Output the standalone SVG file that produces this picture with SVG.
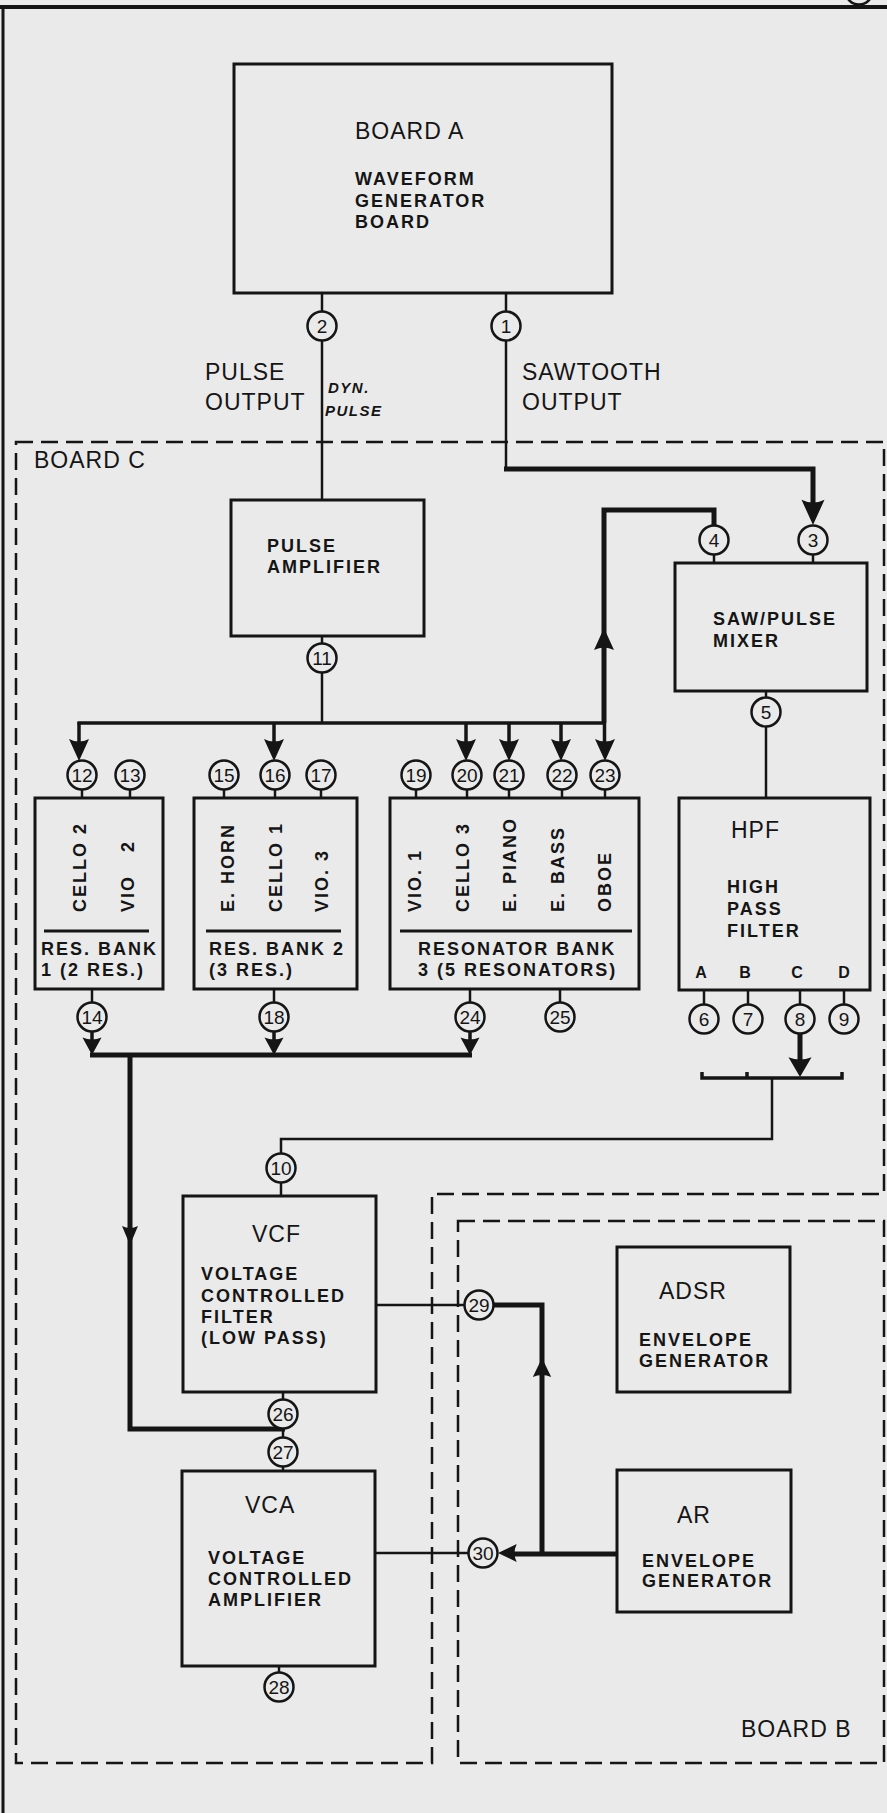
<svg xmlns="http://www.w3.org/2000/svg" xmlns:xlink="http://www.w3.org/1999/xlink" width="887" height="1813" viewBox="0 0 887 1813">
<style>
.bg{fill:#eaeaea}
.box{fill:none;stroke:#151515;stroke-width:3}
.w{fill:none;stroke:#151515;stroke-width:2.5}
.m{fill:none;stroke:#151515;stroke-width:3.5}
.t{fill:none;stroke:#151515;stroke-width:5}
.dash{fill:none;stroke:#151515;stroke-width:2.5;stroke-dasharray:17 8}
.ah{fill:#151515}
.pin circle{fill:#eaeaea;stroke:#151515;stroke-width:2.5}
.pin text{font-family:"Liberation Sans",Arial,sans-serif;font-size:19px;text-anchor:middle;fill:#151515}
.big{font-family:"Liberation Sans",Arial,sans-serif;font-size:23px;letter-spacing:1px;fill:#151515}
.sm{font-family:"Liberation Sans",Arial,sans-serif;font-size:18px;font-weight:bold;letter-spacing:2px;fill:#151515}
.hand{font-family:"Liberation Sans",Arial,sans-serif;font-size:15px;font-weight:bold;font-style:italic;letter-spacing:1.5px;fill:#151515}
</style>
<defs>
<path id="ah" d="M0,0 L-10,-22 Q0,-17 10,-22 Z"/>
<path id="ahN" d="M0,0 L-8,-19 Q0,-15 8,-19 Z"/>
</defs>
<rect class="bg" x="0" y="0" width="887" height="1813"/>

<g id="frame">
<line x1="0" y1="7" x2="887" y2="7" stroke="#151515" stroke-width="4"/>
<line x1="3" y1="7" x2="3" y2="1813" stroke="#151515" stroke-width="3"/>
<circle cx="859" cy="-9" r="13.5" fill="none" stroke="#151515" stroke-width="2.5"/>
</g>

<g id="board-c">
<path class="dash" d="M16,442 H884 V1194 H432 V1763 H16 Z"/>
<text class="big" x="34" y="468">BOARD C</text>
</g>

<g id="board-b">
<rect class="dash" x="458" y="1221" width="426" height="542"/>
<text class="big" x="741" y="1737">BOARD B</text>
</g>

<g id="connectors">
<line class="w" x1="322" y1="293" x2="322" y2="312"/>
<line class="w" x1="322" y1="340" x2="322" y2="500"/>
<line class="w" x1="506" y1="293" x2="506" y2="312"/>
<polyline class="w" points="506,340 506,469"/>
<polyline class="t" points="504,469 813,469 813,508"/>
<use href="#ah" class="ah" transform="translate(813,525) scale(1.15)"/>
<line class="w" x1="813" y1="554" x2="813" y2="563"/>
<line class="w" x1="714" y1="554" x2="714" y2="563"/>
<polyline class="t" points="714,526 714,510 604,510 604,723"/>
<use href="#ah" class="ah" transform="translate(604,628) rotate(180)"/>
<line class="w" x1="322" y1="636" x2="322" y2="644"/>
<line class="w" x1="322" y1="672" x2="322" y2="723"/>
<line class="m" x1="77.5" y1="723" x2="606" y2="723"/>
<polyline class="m" points="79,722 79,745"/>
<line class="m" x1="274" y1="723" x2="274" y2="745"/>
<line class="m" x1="466" y1="723" x2="466" y2="745"/>
<line class="m" x1="509" y1="723" x2="509" y2="745"/>
<line class="m" x1="561" y1="723" x2="561" y2="745"/>
<line class="m" x1="604.5" y1="723" x2="604.5" y2="745"/>
<use href="#ah" class="ah" transform="translate(79,761)"/>
<use href="#ah" class="ah" transform="translate(274,761)"/>
<use href="#ah" class="ah" transform="translate(466,761)"/>
<use href="#ah" class="ah" transform="translate(509,761)"/>
<use href="#ah" class="ah" transform="translate(561,761)"/>
<use href="#ah" class="ah" transform="translate(605,761)"/>
<g class="w">
<line x1="82" y1="789" x2="82" y2="798"/>
<line x1="130" y1="789" x2="130" y2="798"/>
<line x1="224" y1="789" x2="224" y2="798"/>
<line x1="275" y1="789" x2="275" y2="798"/>
<line x1="321" y1="789" x2="321" y2="798"/>
<line x1="416" y1="789" x2="416" y2="798"/>
<line x1="467" y1="789" x2="467" y2="798"/>
<line x1="509" y1="789" x2="509" y2="798"/>
<line x1="562" y1="789" x2="562" y2="798"/>
<line x1="605" y1="789" x2="605" y2="798"/>
<line x1="92" y1="989" x2="92" y2="1003"/>
<line x1="274" y1="989" x2="274" y2="1003"/>
<line x1="470" y1="989" x2="470" y2="1003"/>
<line x1="560" y1="989" x2="560" y2="1003"/>
<line x1="766" y1="691" x2="766" y2="698"/>
<line x1="766" y1="726" x2="766" y2="798"/>
<line x1="704" y1="990" x2="704" y2="1005"/>
<line x1="748" y1="990" x2="748" y2="1005"/>
<line x1="800" y1="990" x2="800" y2="1005"/>
<line x1="844" y1="990" x2="844" y2="1005"/>
</g>
<line class="m" x1="92" y1="1031" x2="92" y2="1040"/>
<line class="m" x1="274" y1="1031" x2="274" y2="1040"/>
<line class="m" x1="470" y1="1031" x2="470" y2="1040"/>
<use href="#ah" class="ah" transform="translate(92,1055) scale(0.95,0.8)"/>
<use href="#ah" class="ah" transform="translate(274,1055) scale(0.95,0.8)"/>
<use href="#ah" class="ah" transform="translate(470,1055) scale(0.95,0.8)"/>
<polyline class="t" points="90,1055 472,1055"/>
<polyline class="t" points="130,1055 130,1429 285,1429"/>
<use href="#ahN" class="ah" transform="translate(130,1245)"/>
<line class="t" x1="800" y1="1033" x2="800" y2="1062"/>
<use href="#ah" class="ah" transform="translate(800,1077) scale(1.15,0.9)"/>
<polyline class="m" points="702,1072 702,1078 842,1078 842,1072"/>
<line class="m" x1="747" y1="1078" x2="747" y2="1072"/>
<polyline class="w" points="772,1078 772,1139 281,1139 281,1154"/>
<line class="w" x1="281" y1="1182" x2="281" y2="1196"/>
<line class="w" x1="283" y1="1392" x2="283" y2="1400"/>
<line class="w" x1="283" y1="1428" x2="283" y2="1438"/>
<line class="w" x1="283" y1="1466" x2="283" y2="1471"/>
<line class="w" x1="279" y1="1666" x2="279" y2="1673"/>
<line class="w" x1="376" y1="1305" x2="465" y2="1305"/>
<polyline class="t" points="493,1305 542,1305 542,1555"/>
<use href="#ahN" class="ah" transform="translate(542,1358) rotate(180) scale(1.15,1)"/>
<line class="w" x1="375" y1="1553" x2="469" y2="1553"/>
<line class="t" x1="617" y1="1554" x2="510" y2="1554"/>
<use href="#ah" class="ah" transform="translate(498,1553) rotate(90) scale(0.9,0.85)"/>
</g>

<g id="board-a">
<rect class="box" x="234" y="64" width="378" height="229"/>
<text class="big" x="355" y="139">BOARD A</text>
<text class="sm" x="355" y="185">WAVEFORM</text>
<text class="sm" x="355" y="207">GENERATOR</text>
<text class="sm" x="355" y="228">BOARD</text>
</g>

<g id="labels-outputs">
<text class="big" x="205" y="380">PULSE</text>
<text class="big" x="205" y="410">OUTPUT</text>
<text class="hand" x="328" y="393">DYN.</text>
<text class="hand" x="325" y="416">PULSE</text>
<text class="big" x="522" y="380">SAWTOOTH</text>
<text class="big" x="522" y="410">OUTPUT</text>
</g>

<g id="pulse-amplifier">
<rect class="box" x="231" y="500" width="193" height="136"/>
<text class="sm" x="267" y="552">PULSE</text>
<text class="sm" x="267" y="573">AMPLIFIER</text>
</g>

<g id="saw-pulse-mixer">
<rect class="box" x="675" y="563" width="192" height="128"/>
<text class="sm" x="713" y="625">SAW/PULSE</text>
<text class="sm" x="713" y="647">MIXER</text>
</g>

<g id="res-bank-1">
<rect class="box" x="35" y="798" width="128" height="191"/>
<text class="sm" transform="translate(85.5,912) rotate(-90)">CELLO 2</text>
<text class="sm" transform="translate(133.5,912) rotate(-90)">VIO<tspan dx="23">2</tspan></text>
<line class="box" x1="44" y1="931" x2="149" y2="931"/>
<text class="sm" x="41" y="955">RES. BANK</text>
<text class="sm" x="41" y="976">1 (2 RES.)</text>
</g>

<g id="res-bank-2">
<rect class="box" x="194" y="798" width="163" height="191"/>
<text class="sm" transform="translate(233.5,912) rotate(-90)">E. HORN</text>
<text class="sm" transform="translate(281.5,912) rotate(-90)">CELLO 1</text>
<text class="sm" transform="translate(327.5,912) rotate(-90)">VIO. 3</text>
<line class="box" x1="206" y1="931" x2="341" y2="931"/>
<text class="sm" x="209" y="955">RES. BANK 2</text>
<text class="sm" x="209" y="976">(3 RES.)</text>
</g>

<g id="res-bank-3">
<rect class="box" x="390" y="798" width="249" height="191"/>
<text class="sm" transform="translate(420.5,912) rotate(-90)">VIO. 1</text>
<text class="sm" transform="translate(468.5,912) rotate(-90)">CELLO 3</text>
<text class="sm" transform="translate(515.5,912) rotate(-90)">E. PIANO</text>
<text class="sm" transform="translate(563.5,912) rotate(-90)">E. BASS</text>
<text class="sm" transform="translate(610.5,912) rotate(-90)">OBOE</text>
<line class="box" x1="400" y1="931" x2="632" y2="931"/>
<text class="sm" x="418" y="955">RESONATOR BANK</text>
<text class="sm" x="418" y="976">3 (5 RESONATORS)</text>
</g>

<g id="hpf">
<rect class="box" x="679" y="798" width="191" height="192"/>
<text class="big" x="731" y="838">HPF</text>
<text class="sm" x="727" y="893">HIGH</text>
<text class="sm" x="727" y="915">PASS</text>
<text class="sm" x="727" y="937">FILTER</text>
<g class="sm" style="font-size:16px;letter-spacing:0px" text-anchor="middle">
<text x="701" y="978">A</text>
<text x="745" y="978">B</text>
<text x="797" y="978">C</text>
<text x="844" y="978">D</text>
</g>
</g>

<g id="vcf">
<rect class="box" x="183" y="1196" width="193" height="196"/>
<text class="big" x="252" y="1242">VCF</text>
<text class="sm" x="201" y="1280">VOLTAGE</text>
<text class="sm" x="201" y="1302">CONTROLLED</text>
<text class="sm" x="201" y="1323">FILTER</text>
<text class="sm" x="201" y="1344">(LOW PASS)</text>
</g>

<g id="vca">
<rect class="box" x="182" y="1471" width="193" height="195"/>
<text class="big" x="245" y="1513">VCA</text>
<text class="sm" x="208" y="1564">VOLTAGE</text>
<text class="sm" x="208" y="1585">CONTROLLED</text>
<text class="sm" x="208" y="1606">AMPLIFIER</text>
</g>

<g id="adsr">
<rect class="box" x="617" y="1247" width="173" height="145"/>
<text class="big" x="659" y="1299">ADSR</text>
<text class="sm" x="639" y="1346">ENVELOPE</text>
<text class="sm" x="639" y="1367">GENERATOR</text>
</g>

<g id="ar">
<rect class="box" x="617" y="1470" width="174" height="142"/>
<text class="big" x="677" y="1523">AR</text>
<text class="sm" x="642" y="1567">ENVELOPE</text>
<text class="sm" x="642" y="1587">GENERATOR</text>
</g>

<g id="pins">
<g class="pin" id="pin1"><circle cx="506" cy="326" r="14.5"/><text x="506" y="332.8">1</text></g>
<g class="pin" id="pin2"><circle cx="322" cy="326" r="14.5"/><text x="322" y="332.8">2</text></g>
<g class="pin" id="pin3"><circle cx="813" cy="540" r="14.5"/><text x="813" y="546.8">3</text></g>
<g class="pin" id="pin4"><circle cx="714" cy="540" r="14.5"/><text x="714" y="546.8">4</text></g>
<g class="pin" id="pin5"><circle cx="766" cy="712" r="14.5"/><text x="766" y="718.8">5</text></g>
<g class="pin" id="pin6"><circle cx="704" cy="1019" r="14.5"/><text x="704" y="1025.8">6</text></g>
<g class="pin" id="pin7"><circle cx="748" cy="1019" r="14.5"/><text x="748" y="1025.8">7</text></g>
<g class="pin" id="pin8"><circle cx="800" cy="1019" r="14.5"/><text x="800" y="1025.8">8</text></g>
<g class="pin" id="pin9"><circle cx="844" cy="1019" r="14.5"/><text x="844" y="1025.8">9</text></g>
<g class="pin" id="pin10"><circle cx="281" cy="1168" r="14.5"/><text x="281" y="1174.8">10</text></g>
<g class="pin" id="pin11"><circle cx="322" cy="658" r="14.5"/><text x="322" y="664.8">11</text></g>
<g class="pin" id="pin12"><circle cx="82" cy="775" r="14.5"/><text x="82" y="781.8">12</text></g>
<g class="pin" id="pin13"><circle cx="130" cy="775" r="14.5"/><text x="130" y="781.8">13</text></g>
<g class="pin" id="pin15"><circle cx="224" cy="775" r="14.5"/><text x="224" y="781.8">15</text></g>
<g class="pin" id="pin16"><circle cx="275" cy="775" r="14.5"/><text x="275" y="781.8">16</text></g>
<g class="pin" id="pin17"><circle cx="321" cy="775" r="14.5"/><text x="321" y="781.8">17</text></g>
<g class="pin" id="pin19"><circle cx="416" cy="775" r="14.5"/><text x="416" y="781.8">19</text></g>
<g class="pin" id="pin20"><circle cx="467" cy="775" r="14.5"/><text x="467" y="781.8">20</text></g>
<g class="pin" id="pin21"><circle cx="509" cy="775" r="14.5"/><text x="509" y="781.8">21</text></g>
<g class="pin" id="pin22"><circle cx="562" cy="775" r="14.5"/><text x="562" y="781.8">22</text></g>
<g class="pin" id="pin23"><circle cx="605" cy="775" r="14.5"/><text x="605" y="781.8">23</text></g>
<g class="pin" id="pin14"><circle cx="92" cy="1017" r="14.5"/><text x="92" y="1023.8">14</text></g>
<g class="pin" id="pin18"><circle cx="274" cy="1017" r="14.5"/><text x="274" y="1023.8">18</text></g>
<g class="pin" id="pin24"><circle cx="470" cy="1017" r="14.5"/><text x="470" y="1023.8">24</text></g>
<g class="pin" id="pin25"><circle cx="560" cy="1017" r="14.5"/><text x="560" y="1023.8">25</text></g>
<g class="pin" id="pin26"><circle cx="283" cy="1414" r="14.5"/><text x="283" y="1420.8">26</text></g>
<g class="pin" id="pin27"><circle cx="283" cy="1452" r="14.5"/><text x="283" y="1458.8">27</text></g>
<g class="pin" id="pin28"><circle cx="279" cy="1687" r="14.5"/><text x="279" y="1693.8">28</text></g>
<g class="pin" id="pin29"><circle cx="479" cy="1305" r="14.5"/><text x="479" y="1311.8">29</text></g>
<g class="pin" id="pin30"><circle cx="483" cy="1553" r="14.5"/><text x="483" y="1559.8">30</text></g>
</g>
</svg>
